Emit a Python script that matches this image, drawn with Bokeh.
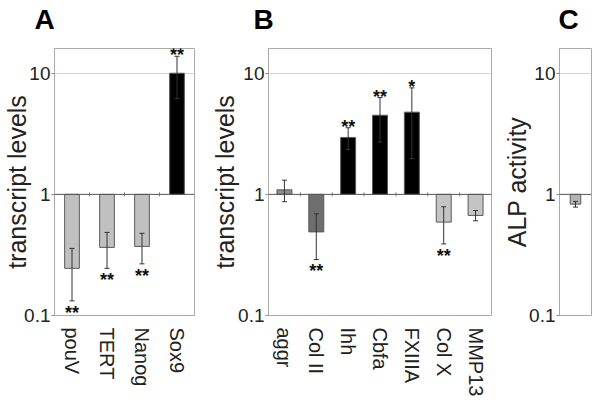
import math
from bokeh.plotting import figure
from bokeh.layouts import row
from bokeh.models import (ColumnDataSource, Whisker, TeeHead, Span, Title,
                          FixedTicker, FactorRange, Range1d)
from bokeh.transform import dodge
from bokeh.core.properties import value
from bokeh.embed import file_html
from bokeh.resources import INLINE

# ---------------- data ----------------
genes_A = ["pouV", "TERT", "Nanog", "Sox9"]
levels_A = [0.245, 0.365, 0.372, 10.0]
err_A = [0.113, 0.12, 0.105, 3.8]
sig_A = ["**", "**", "**", "**"]

genes_B = ["aggr", "Col II", "Ihh", "Cbfa", "FXIIIA", "Col X", "MMP13"]
levels_B = [1.09, 0.49, 2.95, 4.5, 4.77, 0.59, 0.67]
err_B = [0.22, 0.2, 0.6, 1.8, 2.8, 0.2, 0.065]
sig_B = ["", "**", "**", "**", "*", "**", ""]

assays_C = ["ALP"]
levels_C = [0.83]
err_C = [0.045]
sig_C = [""]

y_ticks = [0.1, 1, 10]
y_tick_labels = ["0.1", "1", "10"]
y_title_AB = "transcript levels"
y_title_C = "ALP activity"

# ---------------- styles ----------------
colors_A = ["#c0c0c0", "#c0c0c0", "#c0c0c0", "#000000"]
colors_B = ["#8c8c8c", "#6e6e6e", "#000000", "#000000", "#000000", "#c4c4c4", "#c4c4c4"]
colors_C = ["#b4b4b4"]

FONT = "Liberation Sans"
H = 405
TOP = 48
BOTTOM = H - 315


def panel(cats, vals, errs, sig, colors, width, bl, br, bar_w,
          title, title_standoff, letter, letter_offset, show_x=True):
    up = [v + e for v, e in zip(vals, errs)]
    lo = [v - e for v, e in zip(vals, errs)]
    sy = [u if v > 1 else l for v, u, l in zip(vals, up, lo)]
    so = [-1 if v > 1 else 12 for v in vals]
    src = ColumnDataSource(dict(cat=cats, val=vals, up=up, lo=lo,
                                color=colors, sig=sig, sy=sy, so=so))
    p = figure(x_range=FactorRange(*cats), y_axis_type="log",
               y_range=Range1d(0.1, 16), width=width, height=H,
               output_backend="svg", toolbar_location=None,
               min_border_left=bl, min_border_right=br,
               min_border_top=TOP, min_border_bottom=BOTTOM)
    p.background_fill_color = "white"
    p.border_fill_color = "white"
    p.outline_line_color = "#aaaaaa"

    # spacer between the frame and the panel letter
    p.add_layout(Title(text=" ", text_font=FONT, text_font_size="9px",
                       standoff=0), "above")
    # panel letter as the figure title
    p.title.text = letter
    p.title.align = "left"
    p.title.offset = letter_offset
    p.title.vertical_align = "top"
    p.title.standoff = 0
    p.title.text_font = FONT
    p.title.text_font_size = "28px"
    p.title.text_font_style = "bold"
    p.title.text_color = "#000000"

    p.vbar(x="cat", top="val", bottom=1, width=bar_w, fill_color="color",
           line_color="#5a5a5a", line_width=1, source=src)

    p.add_layout(Span(location=1, dimension="width", line_color="#555555",
                      line_width=1))
    if len(cats) > 1:
        bsrc = ColumnDataSource(dict(cat=cats[1:], y=[1] * (len(cats) - 1)))
        p.scatter(x=dodge("cat", -0.5, range=p.x_range), y="y", marker="dash",
                  angle=math.pi / 2, size=4, line_color="#888888", source=bsrc)

    w = Whisker(source=src, base="cat", upper="up", lower="lo",
                line_color="#333333", line_width=1,
                upper_head=TeeHead(size=5, line_color="#333333", line_width=1),
                lower_head=TeeHead(size=5, line_color="#333333", line_width=1))
    w.level = "overlay"
    p.add_layout(w)

    p.text(x="cat", y="sy", text="sig", y_offset="so", text_align="center",
           text_baseline="middle", text_font=value(FONT),
           text_font_size="18px", text_font_style="bold",
           text_color="#111111", source=src)

    # y axis
    p.yaxis.ticker = FixedTicker(ticks=y_ticks)
    p.yaxis.major_label_overrides = dict(zip(y_ticks, y_tick_labels))
    p.yaxis.major_tick_out = 3
    p.yaxis.major_tick_in = 0
    p.yaxis.minor_tick_out = 0
    p.yaxis.minor_tick_in = 0
    p.yaxis.major_label_standoff = 1
    p.yaxis.axis_line_color = "#aaaaaa"
    p.yaxis.major_tick_line_color = "#888888"
    p.yaxis.major_label_text_font = FONT
    p.yaxis.major_label_text_font_size = "19px"
    p.yaxis.major_label_text_color = "#222222"
    p.yaxis.axis_label = title
    p.yaxis.axis_label_standoff = title_standoff
    p.yaxis.axis_label_text_font = FONT
    p.yaxis.axis_label_text_font_size = "25px"
    p.yaxis.axis_label_text_font_style = "normal"
    p.yaxis.axis_label_text_color = "#222222"

    # x axis
    p.xaxis.major_label_orientation = "vertical"
    p.xaxis.axis_line_color = None
    p.xaxis.major_tick_line_color = None
    p.xaxis.minor_tick_line_color = None
    p.xaxis.major_label_standoff = 6
    p.xaxis.major_label_text_font = FONT
    p.xaxis.major_label_text_font_size = "20px"
    p.xaxis.major_label_text_color = "#222222"
    p.xaxis.visible = show_x

    p.xgrid.visible = False
    p.ygrid.ticker = FixedTicker(ticks=[10])
    p.ygrid.grid_line_color = "#d4d4d4"
    return p


pA = panel(genes_A, levels_A, err_A, sig_A, colors_A, 205, 52, 11, 0.42,
           y_title_AB, -10, "A", -20)
pB = panel(genes_B, levels_B, err_B, sig_B, colors_B, 295, 63, 9, 0.47,
           y_title_AB, -4, "B", -15)
pC = panel(assays_C, levels_C, err_C, sig_C, colors_C, 100, 57, 9, 0.33,
           y_title_C, -5, "C", -1, show_x=False)

layout = row(pA, pB, pC)
open("out.html", "w").write(file_html(layout, INLINE))
